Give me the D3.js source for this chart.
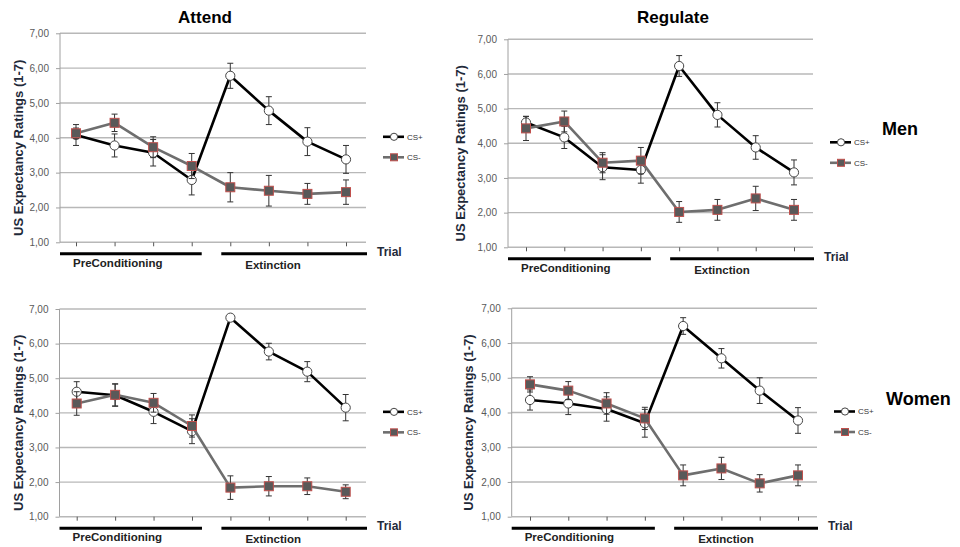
<!DOCTYPE html>
<html>
<head>
<meta charset="utf-8">
<script src="https://cdn.jsdelivr.net/npm/d3@7"></script>
<style>
  body { margin: 0; background: #fff; }
  svg { display: block; font-family: "Liberation Sans", Arial, sans-serif; }
</style>
</head>
<body>
<div id="chart"></div>
<script>
// trials and tick labels
var trials = [1, 2, 3, 4, 5, 6, 7, 8];
var seriesNames = ["CS+", "CS-"];
var yTicks = [1, 2, 3, 4, 5, 6, 7];
var yTickLabels = ["1,00", "2,00", "3,00", "4,00", "5,00", "6,00", "7,00"];
var phaseLabels = ["PreConditioning", "Extinction"];
var colTitles = ["Attend", "Regulate"];
var rowTitles = ["Men", "Women"];

// values (means and error bar half lengths)
var menAttendPlus     = [4.08, 3.78, 3.57, 2.79, 5.78, 4.78, 3.89, 3.38];
var menAttendPlusErr  = [0.30, 0.33, 0.38, 0.43, 0.36, 0.40, 0.40, 0.40];
var menAttendMinus    = [4.13, 4.43, 3.73, 3.19, 2.58, 2.48, 2.39, 2.44];
var menAttendMinusErr = [0.15, 0.25, 0.30, 0.36, 0.42, 0.44, 0.30, 0.35];

var menRegPlus     = [4.60, 4.17, 3.31, 3.23, 6.23, 4.82, 3.88, 3.16];
var menRegPlusErr  = [0.17, 0.32, 0.36, 0.38, 0.30, 0.35, 0.34, 0.36];
var menRegMinus    = [4.43, 4.63, 3.44, 3.50, 2.02, 2.08, 2.41, 2.08];
var menRegMinusErr = [0.35, 0.30, 0.29, 0.38, 0.30, 0.30, 0.35, 0.30];

var womenAttendPlus     = [4.61, 4.51, 4.03, 3.47, 6.75, 5.77, 5.19, 4.15];
var womenAttendPlusErr  = [0.29, 0.32, 0.34, 0.36, 0.05, 0.24, 0.29, 0.38];
var womenAttendMinus    = [4.27, 4.52, 4.29, 3.62, 1.84, 1.88, 1.88, 1.72];
var womenAttendMinusErr = [0.34, 0.32, 0.27, 0.32, 0.34, 0.28, 0.24, 0.20];

var womenRegPlus     = [4.36, 4.26, 4.10, 3.69, 6.49, 5.56, 4.63, 3.77];
var womenRegPlusErr  = [0.29, 0.32, 0.35, 0.40, 0.24, 0.28, 0.37, 0.37];
var womenRegMinus    = [4.81, 4.63, 4.26, 3.83, 2.19, 2.39, 1.96, 2.19];
var womenRegMinusErr = [0.22, 0.26, 0.31, 0.32, 0.30, 0.32, 0.25, 0.30];

var W = 960, H = 547;
var svg = d3.select("#chart").append("svg").attr("width", W).attr("height", H);

var panels = [
  {axisX: 60, right: 366, top: 33.3, bottom: 242.3, p1: 76, p8: 346, yTitleX: 18,
   title: colTitles[0], titleX: 205,
   plus: menAttendPlus, plusErr: menAttendPlusErr, minus: menAttendMinus, minusErr: menAttendMinusErr},
  {axisX: 508, right: 813, top: 39.3, bottom: 247.3, p1: 526, p8: 794, yTitleX: 460,
   title: colTitles[1], titleX: 673, row: rowTitles[0], rowY: 135,
   plus: menRegPlus, plusErr: menRegPlusErr, minus: menRegMinus, minusErr: menRegMinusErr},
  {axisX: 59.5, right: 366, top: 309, bottom: 516.7, p1: 76.7, p8: 345.7, yTitleX: 18,
   plus: womenAttendPlus, plusErr: womenAttendPlusErr, minus: womenAttendMinus, minusErr: womenAttendMinusErr},
  {axisX: 511.7, right: 817, top: 308.3, bottom: 516.7, p1: 530, p8: 798, yTitleX: 468,
   row: rowTitles[1], rowY: 405,
   plus: womenRegPlus, plusErr: womenRegPlusErr, minus: womenRegMinus, minusErr: womenRegMinusErr}
];

var styles = {
  "CS+": {line: "#000", width: 2.6},
  "CS-": {line: "#6e6e6e", width: 2.6}
};

panels.forEach(function(p) {
  var g = svg.append("g");
  var x = d3.scalePoint().domain(trials).range([p.p1, p.p8]);
  var y = d3.scaleLinear().domain([1, 7]).range([p.bottom, p.top]);

  // grid lines
  g.selectAll("line.grid").data(yTicks).enter().append("line")
    .attr("x1", p.axisX).attr("x2", p.right)
    .attr("y1", function(d) { return y(d); }).attr("y2", function(d) { return y(d); })
    .attr("stroke", "#b8b8b8").attr("stroke-width", 1.4);

  // y axis
  var yAxis = d3.axisLeft(y).tickValues(yTicks).tickSize(4).tickPadding(7)
    .tickFormat(function(d, i) { return yTickLabels[i]; });
  var ya = g.append("g").attr("transform", "translate(" + p.axisX + ",0)").call(yAxis);
  ya.select(".domain").attr("stroke", "#a0a0a0").attr("d", "M0," + p.bottom + "V" + p.top);
  ya.selectAll(".tick line").attr("stroke", "#a0a0a0");
  ya.selectAll(".tick text").attr("fill", "#595959").style("font-size", "10px")
    .style("font-family", "'Liberation Sans', Arial, sans-serif");

  // x axis ticks
  var xAxis = d3.axisBottom(x).tickSize(4).tickFormat("");
  var xa = g.append("g").attr("transform", "translate(0," + p.bottom + ")").call(xAxis);
  xa.select(".domain").remove();
  xa.selectAll(".tick line").attr("stroke", "#555").attr("stroke-width", 1);

  // y title
  g.append("text")
    .attr("transform", "translate(" + p.yTitleX + "," + ((p.top + p.bottom) / 2 + 10) + ") rotate(-90)")
    .attr("text-anchor", "middle").attr("dy", "0.35em")
    .attr("fill", "#1f2a3a").style("font-size", "13px").style("font-weight", "bold")
    .text("US Expectancy Ratings (1-7)");

  // phase bars and labels
  var barY = p.bottom + 11.5;
  var preEnd = x(4) + 10, extStart = x(5) - 9;
  g.append("line").attr("x1", p.axisX).attr("x2", preEnd).attr("y1", barY).attr("y2", barY)
    .attr("stroke", "#000").attr("stroke-width", 3);
  g.append("line").attr("x1", extStart).attr("x2", p.right + 1).attr("y1", barY).attr("y2", barY)
    .attr("stroke", "#000").attr("stroke-width", 3);
  g.append("text").attr("x", p.axisX + 13).attr("y", barY + 13)
    .attr("fill", "#222").style("font-size", "11.5px").style("font-weight", "bold")
    .text(phaseLabels[0]);
  g.append("text").attr("x", extStart + 24).attr("y", barY + 15)
    .attr("fill", "#222").style("font-size", "11.5px").style("font-weight", "bold")
    .text(phaseLabels[1]);
  g.append("text").attr("x", p.right + 11).attr("y", barY + 2)
    .attr("fill", "#1f2a3a").style("font-size", "12px").style("font-weight", "bold")
    .text("Trial");

  if (p.title) {
    g.append("text").attr("x", p.titleX).attr("y", p.top - 10 - (p.top - 33.3))
      .attr("text-anchor", "middle").attr("fill", "#000")
      .style("font-size", "17px").style("font-weight", "bold").text(p.title);
  }
  if (p.row) {
    g.append("text").attr("x", p.right + 69).attr("y", p.rowY)
      .attr("fill", "#000").style("font-size", "18px").style("font-weight", "bold").text(p.row);
  }

  var sets = [
    {name: seriesNames[0], vals: p.plus, err: p.plusErr},
    {name: seriesNames[1], vals: p.minus, err: p.minusErr}
  ];

  sets.forEach(function(s) {
    var st = styles[s.name];
    var pts = trials.map(function(t, i) { return {t: t, v: s.vals[i], e: s.err[i]}; });

    // error bars
    var eb = g.append("g").attr("stroke", "#333").attr("stroke-width", 1);
    eb.selectAll("line.v").data(pts).enter().append("line")
      .attr("x1", function(d) { return x(d.t); }).attr("x2", function(d) { return x(d.t); })
      .attr("y1", function(d) { return y(d.v + d.e); }).attr("y2", function(d) { return y(d.v - d.e); });
    eb.selectAll("line.top").data(pts).enter().append("line")
      .attr("x1", function(d) { return x(d.t) - 3; }).attr("x2", function(d) { return x(d.t) + 3; })
      .attr("y1", function(d) { return y(d.v + d.e); }).attr("y2", function(d) { return y(d.v + d.e); });
    eb.selectAll("line.bot").data(pts).enter().append("line")
      .attr("x1", function(d) { return x(d.t) - 3; }).attr("x2", function(d) { return x(d.t) + 3; })
      .attr("y1", function(d) { return y(d.v - d.e); }).attr("y2", function(d) { return y(d.v - d.e); });

    var line = d3.line().x(function(d) { return x(d.t); }).y(function(d) { return y(d.v); });
    g.append("path").datum(pts).attr("d", line).attr("fill", "none")
      .attr("stroke", st.line).attr("stroke-width", st.width).attr("stroke-linejoin", "round");

    if (s.name === "CS+") {
      g.selectAll(null).data(pts).enter().append("circle")
        .attr("cx", function(d) { return x(d.t); }).attr("cy", function(d) { return y(d.v); })
        .attr("r", 4.6).attr("fill", "#fff").attr("stroke", "#444").attr("stroke-width", 1);
    } else {
      g.selectAll(null).data(pts).enter().append("rect")
        .attr("x", function(d) { return x(d.t) - 4.5; }).attr("y", function(d) { return y(d.v) - 4.5; })
        .attr("width", 9).attr("height", 9)
        .attr("fill", "#595959").attr("stroke", "#c0504d").attr("stroke-width", 1);
    }
  });

  // legend
  var lx = p.right + 17;
  sets.forEach(function(s, i) {
    var ly = y(4) - 1 + i * 20.5;
    var st = styles[s.name];
    g.append("line").attr("x1", lx).attr("x2", lx + 21).attr("y1", ly).attr("y2", ly)
      .attr("stroke", st.line).attr("stroke-width", 2.6);
    if (i === 0) {
      g.append("circle").attr("cx", lx + 11).attr("cy", ly).attr("r", 3.6)
        .attr("fill", "#fff").attr("stroke", "#444").attr("stroke-width", 1);
    } else {
      g.append("rect").attr("x", lx + 7.5).attr("y", ly - 3.5).attr("width", 7).attr("height", 7)
        .attr("fill", "#595959").attr("stroke", "#c0504d").attr("stroke-width", 1);
    }
    g.append("text").attr("x", lx + 24).attr("y", ly).attr("dy", "0.35em")
      .attr("fill", "#333").style("font-size", "8px").text(s.name);
  });
});
</script>
</body>
</html>
